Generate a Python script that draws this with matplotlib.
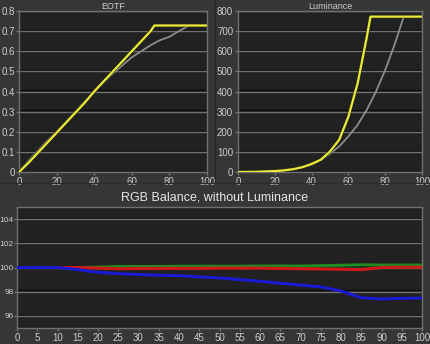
import numpy as np
import matplotlib
matplotlib.use("Agg")
import matplotlib.pyplot as plt
import matplotlib.patheffects as pe
from matplotlib.lines import Line2D

plt.rcParams["font.family"] = ["Liberation Sans", "DejaVu Sans"]

# EOTF panel (signal % vs normalized output)
eotf_x = [0, 5, 10, 15, 20, 25, 30, 35, 40, 45, 50, 55, 60, 65, 70, 72, 75, 80, 85, 90, 95, 100]
eotf_target = [0, 0.055, 0.105, 0.155, 0.2, 0.25, 0.3, 0.35, 0.4, 0.445, 0.49, 0.53, 0.57, 0.6,
               0.63, 0.64, 0.655, 0.672, 0.7, 0.725, 0.725, 0.725]
eotf_meas = [0, 0.045, 0.095, 0.145, 0.195, 0.245, 0.295, 0.345, 0.4, 0.45, 0.5, 0.55, 0.6, 0.65,
             0.7, 0.728, 0.728, 0.728, 0.728, 0.728, 0.728, 0.728]

# Luminance panel (cd/m2)
lum_x = [0, 5, 10, 15, 20, 25, 30, 35, 40, 45, 50, 55, 60, 65, 70, 72, 75, 80, 85, 90, 95, 100]
lum_target = [0, 0.5, 1, 3, 5, 9, 15, 23, 35, 58, 91, 127, 177, 234, 309, 345, 400, 507, 630, 770, 770, 770]
lum_meas = [0, 0.5, 1, 3, 4.5, 8, 14, 24, 40, 61, 102, 160, 275, 440, 670, 772, 772, 772, 772, 772, 772, 772]

# RGB balance (%)
rgb_x = [0, 5, 10, 15, 20, 25, 30, 35, 40, 45, 50, 55, 60, 65, 70, 75, 80, 85, 90, 95, 100]
red = [100, 100, 100, 100, 99.95, 99.9, 99.92, 99.92, 99.93, 99.93, 99.95, 99.95, 99.95, 99.92,
       99.9, 99.88, 99.85, 99.82, 100.0, 100.02, 100.02]
green = [100, 100, 100, 100.0, 100.03, 100.08, 100.08, 100.08, 100.1, 100.1, 100.1, 100.1, 100.12,
         100.12, 100.12, 100.15, 100.18, 100.22, 100.2, 100.2, 100.2]
blue = [100, 100, 100, 99.83, 99.6, 99.5, 99.42, 99.36, 99.33, 99.22, 99.14, 99.0, 98.86, 98.7,
        98.55, 98.4, 98.06, 97.5, 97.4, 97.45, 97.47]

fig_bg = "#363636"
ax_bg = "#212121"
grid_c = "#707070"
text_c = "#cccccc"

fig = plt.figure(figsize=(4.3, 3.44), dpi=100, facecolor=fig_bg)

grid_fx = [pe.SimpleLineShadow(offset=(0, 0.9), shadow_color="#0c0c0c", alpha=1.0), pe.Normal()]


def style(ax, yticks, xticks, size=7):
    ax.set_facecolor(ax_bg)
    for s in ax.spines.values():
        s.set_color(grid_c)
        s.set_linewidth(1.0)
    ax.set_yticks(yticks)
    ax.set_xticks(xticks)
    ax.tick_params(colors=grid_c, labelcolor=text_c, labelsize=size, length=2.5, width=1, pad=1)
    ax.yaxis.grid(True, color=grid_c, linewidth=1.0, path_effects=grid_fx)
    ax.xaxis.grid(False)
    ax.set_axisbelow(True)


# EOTF
ax1 = fig.add_axes([19 / 430, 1 - 172 / 344, 188 / 430, 161 / 344])
style(ax1, np.arange(0, 0.81, 0.1), range(0, 101, 20))
ax1.set_yticklabels(["0", "0.1", "0.2", "0.3", "0.4", "0.5", "0.6", "0.7", "0.8"])
ax1.tick_params(axis="y", pad=0.5)
ax1.set_xlim(0, 100)
ax1.set_ylim(0, 0.8)
ax1.plot(eotf_x, eotf_target, color="#8c8c8c", lw=1.3, zorder=3)
ax1.plot(eotf_x, eotf_meas, color="#eaea3c", lw=1.6, zorder=4,
         path_effects=[pe.Stroke(linewidth=2.4, foreground="#2a2a10"), pe.Normal()])
ax1.set_title("EOTF", color=text_c, fontsize=6.5, pad=1.5)

# Luminance
ax2 = fig.add_axes([238 / 430, 1 - 172 / 344, 184 / 430, 161 / 344])
style(ax2, range(0, 801, 100), range(0, 101, 20))
ax2.set_xlim(0, 100)
ax2.set_ylim(0, 800)
ax2.plot(lum_x, lum_target, color="#8c8c8c", lw=1.3, zorder=3)
ax2.plot(lum_x, lum_meas, color="#eaea3c", lw=1.6, zorder=4,
         path_effects=[pe.Stroke(linewidth=2.4, foreground="#2a2a10"), pe.Normal()])
ax2.set_title("Luminance", color=text_c, fontsize=6.5, pad=1.5)

# RGB balance
ax3 = fig.add_axes([17 / 430, 1 - 328 / 344, 405 / 430, 121 / 344])
style(ax3, range(96, 105, 2), range(0, 101, 5))
ax3.tick_params(axis="y", labelsize=6, length=2, pad=0.5)
ax3.set_xlim(0, 100)
ax3.set_ylim(95, 105)
ax3.plot(rgb_x, green, color="#1f8a1f", lw=2.2, zorder=3)
ax3.plot(rgb_x, red, color="#d01818", lw=2.2, zorder=4)
ax3.plot(rgb_x, blue, color="#1a1ad0", lw=2.2, zorder=5)
fig.text(0.5, 1 - 198 / 344, "RGB Balance, without Luminance", color="#e6e6e6",
         fontsize=9, ha="center", va="center")

# panel separators
fig.add_artist(Line2D([215 / 430, 215 / 430], [1 - 182 / 344, 1], color="#262626", lw=1.0))
fig.add_artist(Line2D([0, 1], [1 - 183 / 344, 1 - 183 / 344], color="#2c2c2c", lw=1.0))

fig.savefig("out.png", dpi=100, facecolor=fig_bg)
